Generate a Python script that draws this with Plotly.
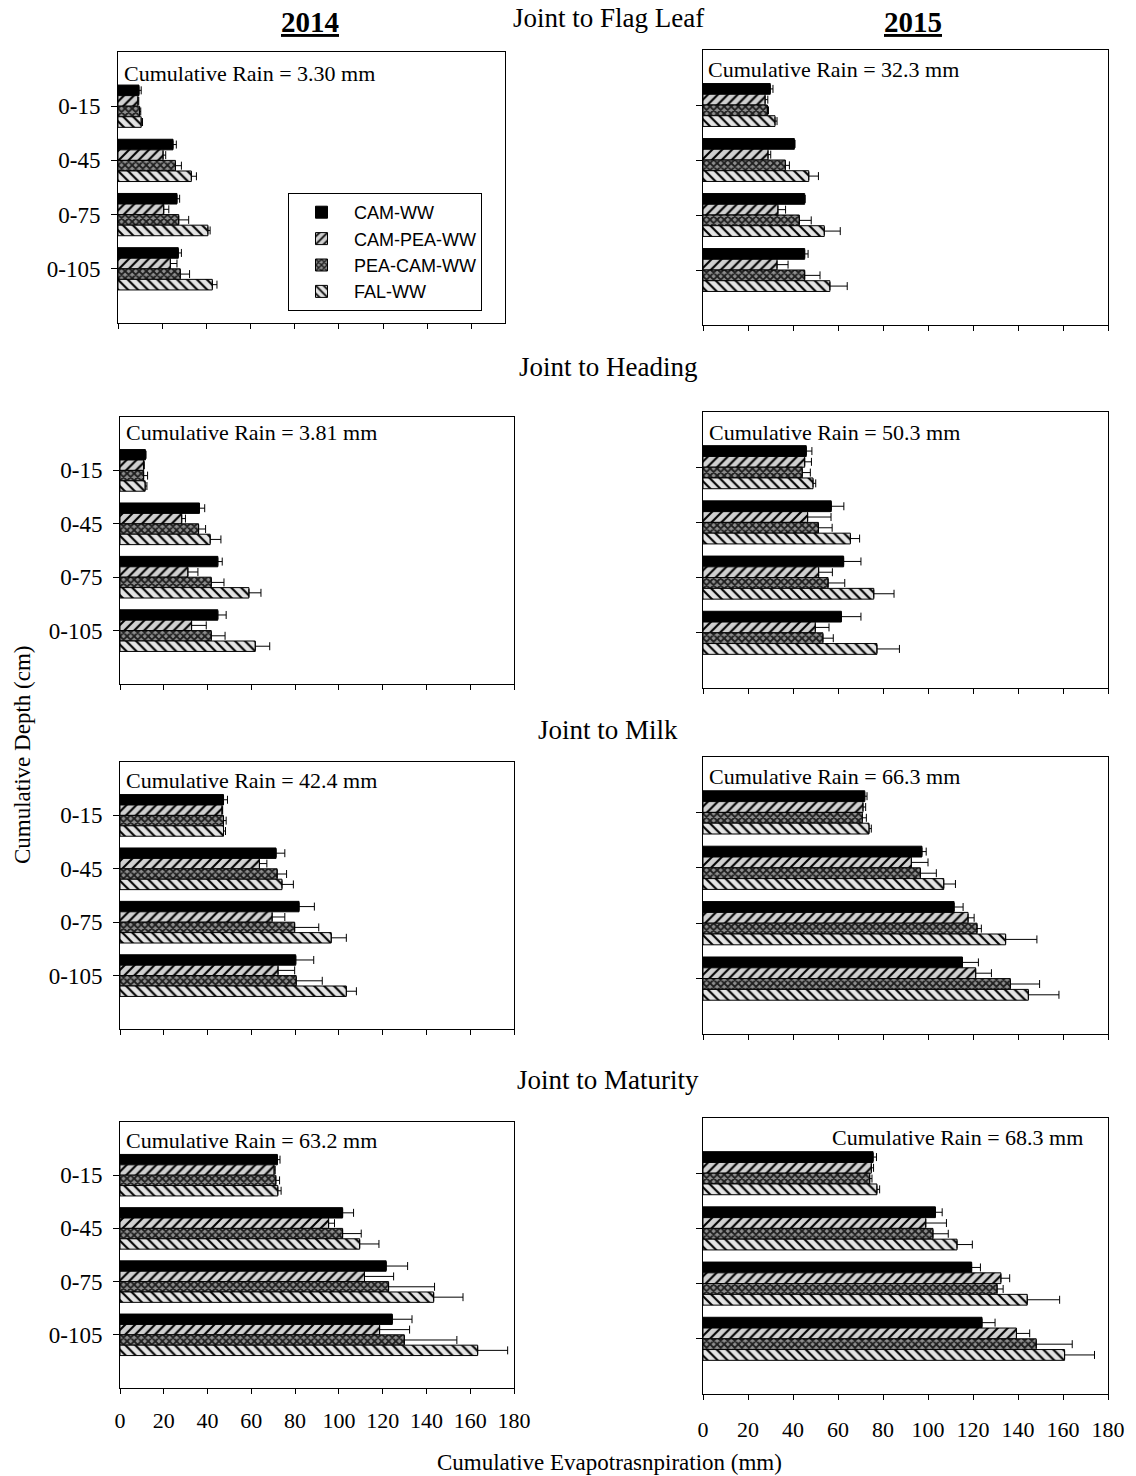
import plotly.graph_objects as go

W, H = 1136, 1476

depths = ["0-15", "0-45", "0-75", "0-105"]
treatments = ["CAM-WW", "CAM-PEA-WW", "PEA-CAM-WW", "FAL-WW"]
x_ticks = [0, 20, 40, 60, 80, 100, 120, 140, 160, 180]
stages = ["Joint to Flag Leaf", "Joint to Heading", "Joint to Milk", "Joint to Maturity"]
years = ["2014", "2015"]
rain_2014 = ["3.30", "3.81", "42.4", "63.2"]
rain_2015 = ["32.3", "50.3", "66.3", "68.3"]

# Cumulative ET (mm): rows = treatments, columns = depths
flag_2014 = [[9.5, 24.9, 26.7, 27.3], [9.0, 20.4, 20.7, 23.7], [9.8, 26.0, 27.5, 28.2], [10.5, 33.2, 40.7, 42.7]]
flag_2014_err = [[1.0, 1.5, 1.2, 1.4], [0.4, 1.2, 2.3, 3.0], [0.5, 2.7, 4.5, 4.2], [0.6, 2.3, 1.0, 2.1]]
flag_2015 = [[29.9, 40.6, 45.2, 45.2], [27.6, 28.9, 33.3, 32.9], [28.6, 36.6, 42.8, 45.2], [32.0, 47.0, 53.9, 56.4]]
flag_2015_err = [[1.2, 0.3, 0.2, 1.5], [1.2, 1.2, 3.4, 4.9], [0.5, 1.8, 5.3, 6.8], [0.9, 4.3, 7.1, 7.7]]
head_2014 = [[11.6, 36.3, 44.7, 44.7], [10.8, 28.2, 31.0, 32.7], [10.8, 35.9, 41.7, 41.7], [11.5, 41.2, 58.9, 61.8]]
head_2014_err = [[0.3, 2.4, 2.0, 3.8], [0.3, 1.7, 4.6, 6.7], [1.8, 3.2, 5.8, 6.3], [0.8, 4.9, 5.5, 6.6]]
head_2015 = [[45.9, 57.0, 62.5, 61.5], [45.2, 46.5, 51.4, 49.9], [44.1, 51.3, 55.6, 53.3], [48.9, 65.5, 75.9, 77.3]]
head_2015_err = [[2.5, 5.6, 7.7, 8.7], [3.0, 10.4, 6.1, 6.1], [3.6, 6.1, 7.4, 4.6], [1.2, 4.1, 9.0, 10.0]]
milk_2014 = [[47.3, 71.3, 81.8, 80.3], [46.6, 63.7, 69.5, 72.2], [47.3, 71.8, 79.8, 80.5], [47.3, 74.0, 96.5, 103.4]]
milk_2014_err = [[1.8, 4.0, 7.0, 8.2], [0.3, 3.4, 5.8, 7.6], [1.2, 4.3, 11.0, 11.9], [0.9, 5.2, 6.9, 4.6]]
milk_2015 = [[71.9, 97.3, 111.6, 115.3], [71.1, 92.6, 117.8, 121.2], [70.8, 96.6, 121.8, 136.6], [73.8, 107.0, 134.5, 144.6]]
milk_2015_err = [[1.0, 1.9, 4.0, 7.1], [1.2, 7.4, 2.7, 7.0], [1.8, 7.1, 1.9, 13.0], [1.0, 5.2, 13.9, 13.6]]
mat_2014 = [[71.9, 101.7, 121.6, 124.4], [70.4, 95.3, 111.7, 118.6], [71.2, 101.7, 122.7, 129.9], [72.1, 109.5, 143.3, 163.4]]
mat_2014_err = [[1.2, 5.0, 9.8, 9.0], [0.5, 2.7, 13.3, 13.7], [1.7, 8.5, 21.0, 24.0], [1.5, 8.8, 13.4, 13.7]]
mat_2015 = [[75.6, 103.3, 119.4, 124.0], [74.8, 99.0, 132.4, 139.3], [74.1, 102.2, 130.7, 148.1], [77.3, 112.9, 144.1, 160.7]]
mat_2015_err = [[1.5, 3.0, 3.9, 5.8], [1.0, 9.2, 3.9, 5.9], [1.0, 6.8, 2.7, 16.0], [1.2, 6.8, 14.4, 13.3]]

panels = [
    (flag_2014, flag_2014_err), (flag_2015, flag_2015_err),
    (head_2014, head_2014_err), (head_2015, head_2015_err),
    (milk_2014, milk_2014_err), (milk_2015, milk_2015_err),
    (mat_2014, mat_2014_err), (mat_2015, mat_2015_err),
]
rains = [rain_2014[0], rain_2015[0], rain_2014[1], rain_2015[1],
         rain_2014[2], rain_2015[2], rain_2014[3], rain_2015[3]]

# layout geometry in pixels
left_x = [(118, 505, 175.2), (120, 514, 180), (120, 514, 180), (120, 514, 180)]
right_x = (703, 1108, 180)
left_rows = [(52, 323), (417, 684), (762, 1029), (1122, 1388)]
right_rows = [(50, 325), (412, 688), (757, 1034), (1118, 1394)]
rain_pos = [(122, 73), (706, 69), (124, 432), (707, 432), (124, 780), (707, 777), (124, 1140), (830, 1137)]

SERIF = "Liberation Serif"
SANS = "Liberation Sans"


def px(x):
    return x / W


def py(y):
    return 1 - y / H


styles = [
    dict(color="black"),
    dict(color="#d0d0d0", pattern=dict(shape="/", fgcolor="black", bgcolor="#d0d0d0", size=7, solidity=0.3, fillmode="replace")),
    dict(color="#808080", pattern=dict(shape="x", fgcolor="#1e1e1e", bgcolor="#8e8e8e", size=5, solidity=0.6, fillmode="replace")),
    dict(color="#e4e4e4", pattern=dict(shape="\\", fgcolor="black", bgcolor="#e4e4e4", size=7, solidity=0.3, fillmode="replace")),
]

fig = go.Figure()
layout_axes = {}
annotations = []

for k, (means, errs) in enumerate(panels):
    idx = k + 1
    row, col = k // 2, k % 2
    xn = "x" if idx == 1 else f"x{idx}"
    yn = "y" if idx == 1 else f"y{idx}"
    for t in range(4):
        st = styles[t]
        marker = dict(color=st["color"], line=dict(color="black", width=1))
        if "pattern" in st:
            marker["pattern"] = st["pattern"]
        fig.add_trace(go.Bar(
            orientation="h", y=depths, x=means[t], name=treatments[t],
            xaxis=xn, yaxis=yn, showlegend=(idx == 1), legendgroup=treatments[t],
            marker=marker,
            error_x=dict(type="data", symmetric=False, array=errs[t], arrayminus=[0] * 4,
                         color="black", thickness=1, width=4),
        ))
    if col == 0:
        x0, x1, xmax = left_x[row]
        y0, y1 = left_rows[row]
        standoff = 8
    else:
        x0, x1, xmax = right_x
        y0, y1 = right_rows[row]
        standoff = 11
    bottom = row == 3
    layout_axes["xaxis" if idx == 1 else f"xaxis{idx}"] = dict(
        domain=[px(x0), px(x1)], anchor=yn, range=[0, xmax], automargin=False,
        tickvals=x_ticks, showticklabels=bottom, ticks="outside", ticklen=5,
        ticklabelstandoff=standoff,
        tickcolor="black", showline=True, linecolor="black", linewidth=1, mirror=True,
        showgrid=False, zeroline=False, tickfont=dict(family=SERIF, size=22, color="black"),
    )
    layout_axes["yaxis" if idx == 1 else f"yaxis{idx}"] = dict(
        domain=[py(y1), py(y0)], anchor=xn, type="category", automargin=False,
        categoryorder="array", categoryarray=depths, range=[4, -1],
        showticklabels=(col == 0), ticks="outside", ticklen=6, tickcolor="black",
        ticklabelstandoff=6,
        showline=True, linecolor="black", linewidth=1, mirror=True, showgrid=False,
        zeroline=False, tickfont=dict(family=SERIF, size=23, color="black"),
    )
    rx, ry = rain_pos[k]
    annotations.append(dict(
        x=px(rx), y=py(ry), xref="paper", yref="paper", xanchor="left", yanchor="middle",
        text=f"Cumulative Rain = {rains[k]} mm", showarrow=False,
        font=dict(family=SERIF, size=22, color="black"),
    ))

stage_y = [18, 367, 730, 1080]
for s, yy in zip(stages, stage_y):
    annotations.append(dict(x=px(608), y=py(yy), xref="paper", yref="paper",
                            xanchor="center", yanchor="middle", text=s, showarrow=False,
                            font=dict(family=SERIF, size=27, color="black")))
for yr, xx in zip(years, [310, 913]):
    annotations.append(dict(x=px(xx), y=py(22), xref="paper", yref="paper",
                            xanchor="center", yanchor="middle", text=f"<b><u>{yr}</u></b>",
                            showarrow=False, font=dict(family=SERIF, size=29, color="black")))
annotations.append(dict(x=px(609), y=py(1462), xref="paper", yref="paper",
                        xanchor="center", yanchor="middle",
                        text="Cumulative Evapotrasnpiration (mm)", showarrow=False,
                        font=dict(family=SERIF, size=23, color="black")))
annotations.append(dict(x=px(22), y=py(755), xref="paper", yref="paper",
                        xanchor="center", yanchor="middle", textangle=-90,
                        text="Cumulative Depth (cm)", showarrow=False,
                        font=dict(family=SERIF, size=23, color="black")))

fig.update_layout(
    width=W, height=H, margin=dict(l=0, r=0, t=0, b=0, autoexpand=False),
    paper_bgcolor="white", plot_bgcolor="white",
    barmode="group", bargap=0.22, bargroupgap=0,
    showlegend=True,
    legend=dict(x=px(288), y=py(193), xanchor="left", yanchor="top",
                bordercolor="black", borderwidth=1, bgcolor="white",
                traceorder="normal", itemwidth=55, entrywidth=160,
                font=dict(family=SANS, size=18, color="black"),
                tracegroupgap=2),
    annotations=annotations,
    **layout_axes,
)

fig.write_html("out.html")
